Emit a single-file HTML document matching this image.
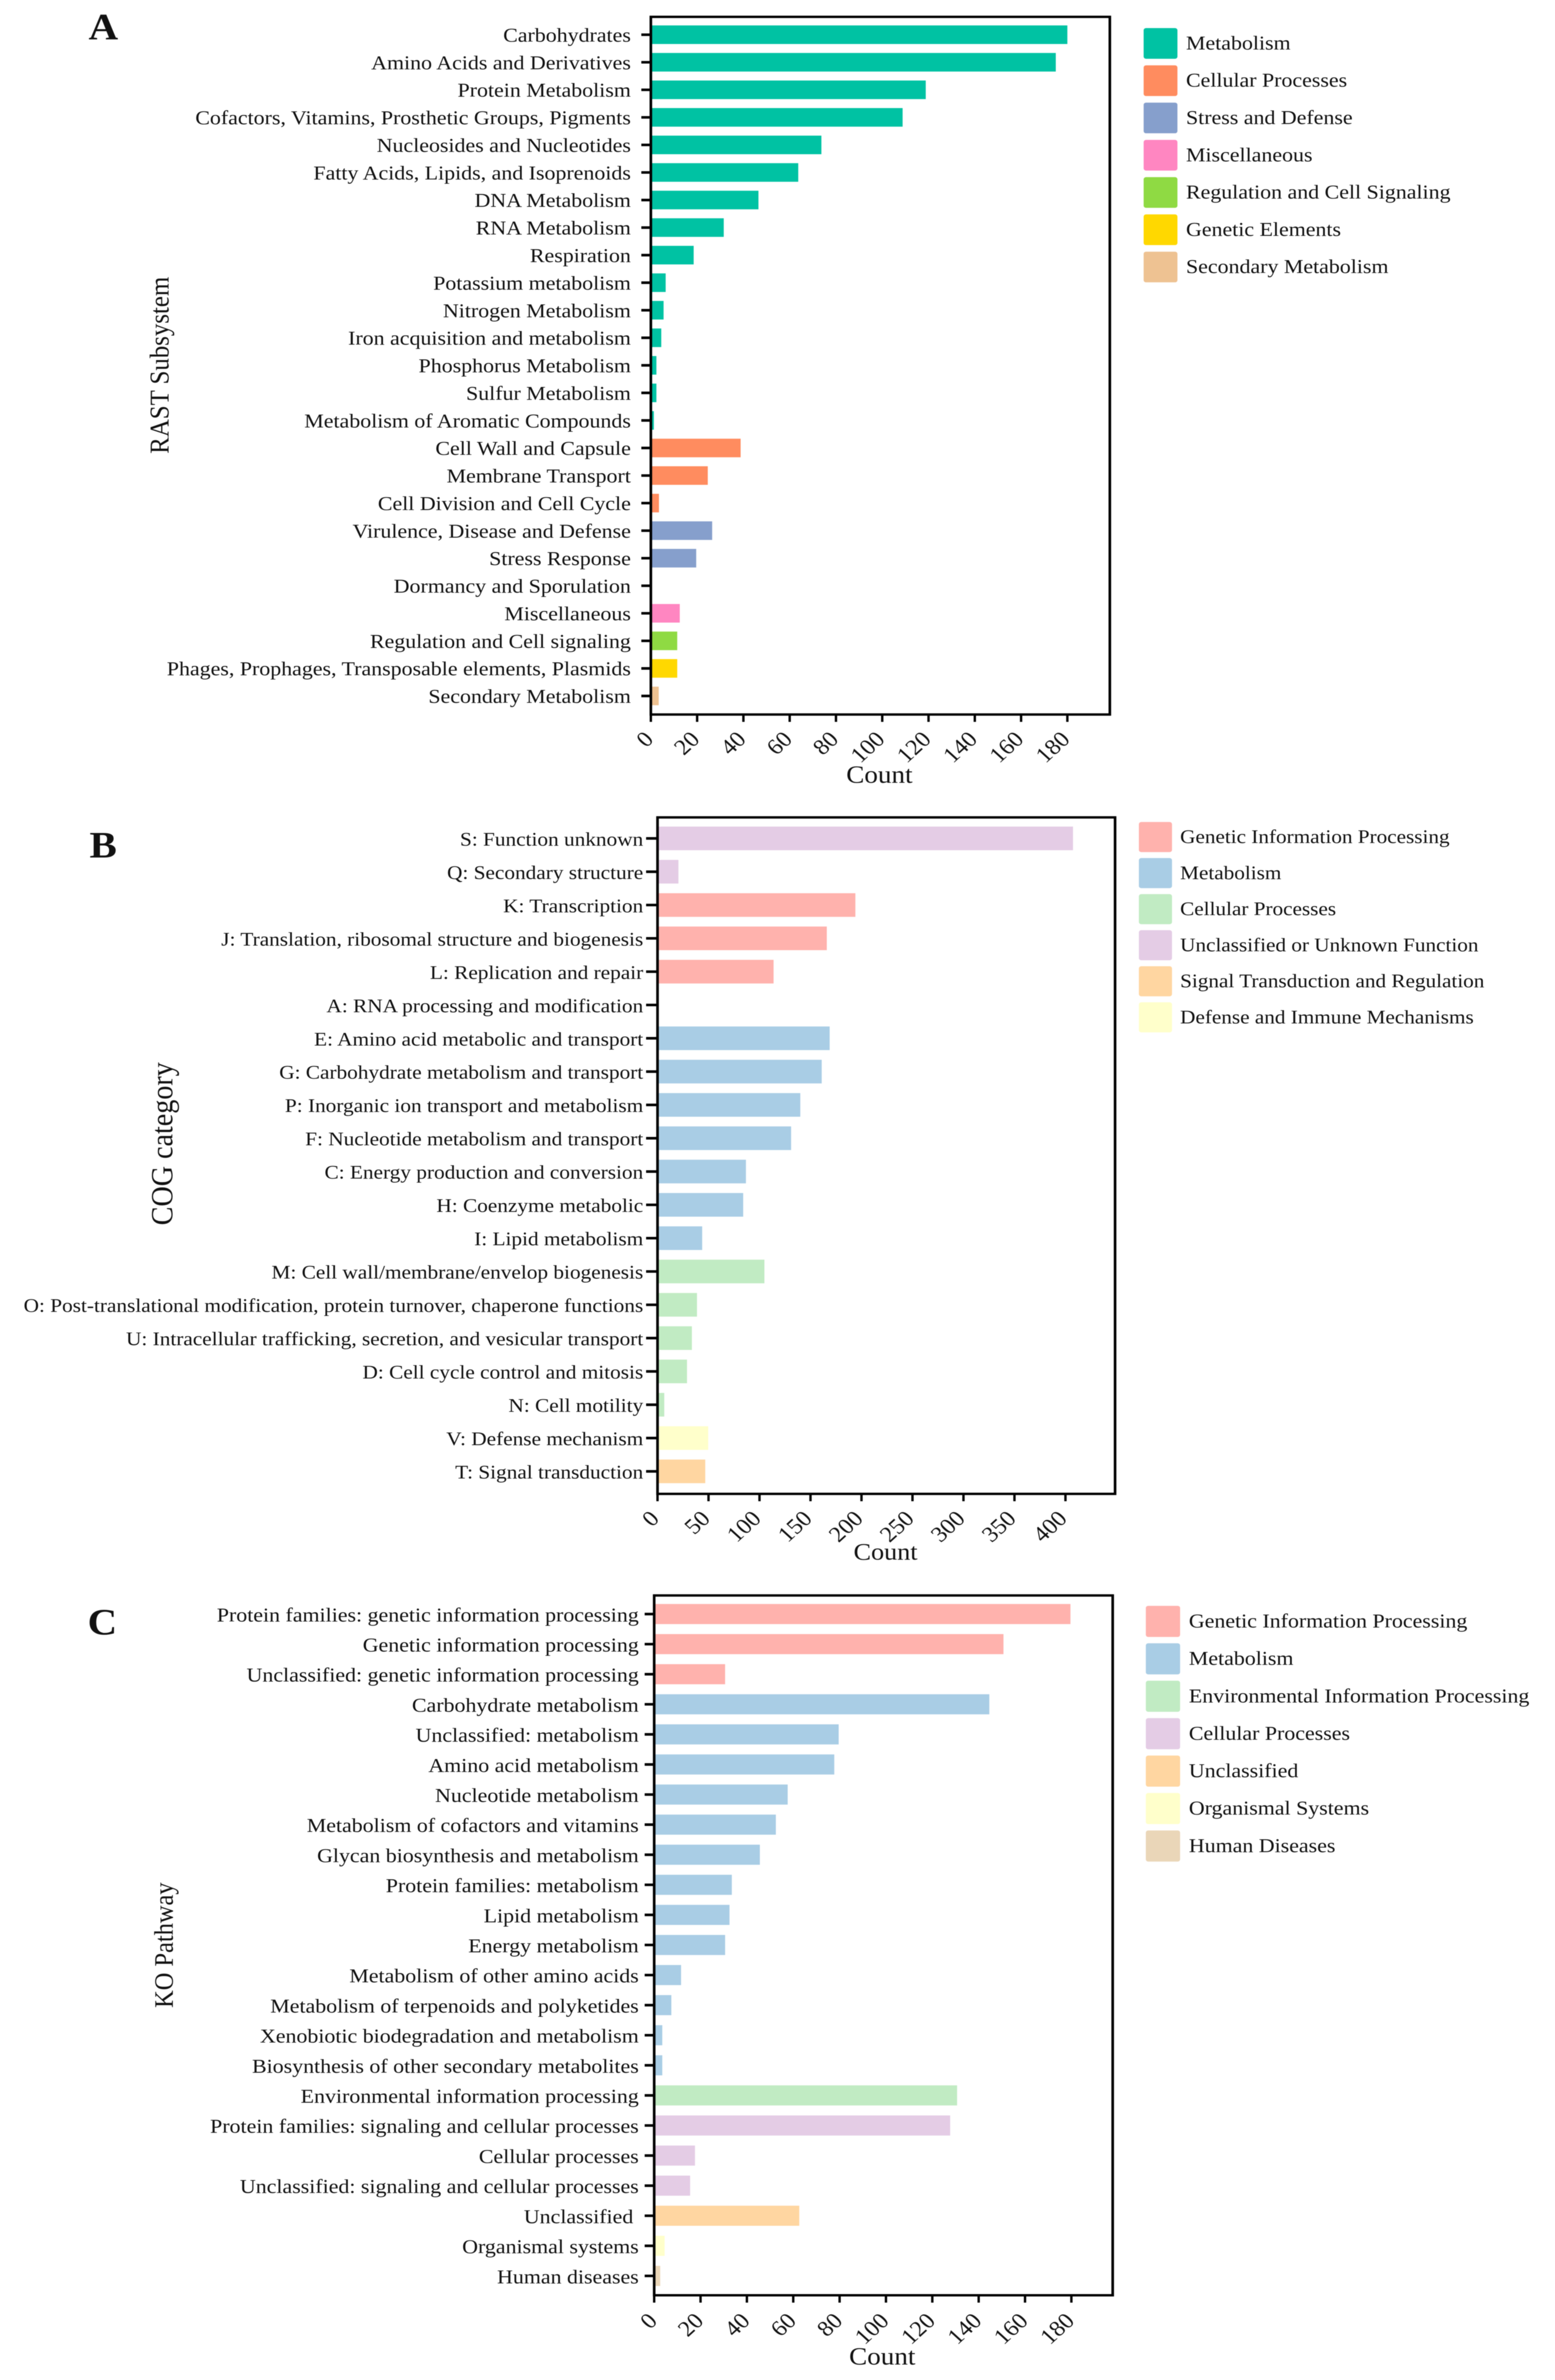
<!DOCTYPE html>
<html lang="en">
<head>
<meta charset="utf-8">
<title>RAST, COG and KO functional annotation counts</title>
<style>
  html, body { margin: 0; padding: 0; background: #ffffff; width: 100%; height: 100%; overflow: hidden; }
  svg { display: block; width: 100vw; height: 100vh; filter: blur(0.9px); }
  text { font-family: "Liberation Serif", "Times New Roman", serif; fill: #111111; }
</style>
</head>
<body>
<svg id="figure" xmlns="http://www.w3.org/2000/svg" viewBox="0 0 3266 5506" preserveAspectRatio="none">
  <rect x="0" y="0" width="3266" height="5506" fill="#ffffff"/>

  <g id="panel-a"></g>
  <g id="panel-b"></g>
  <g id="panel-c"></g>

  <text x="186" y="91" font-size="86" font-weight="700">A</text>
  <text x="188" y="1984" font-size="86" font-weight="700">B</text>
  <text x="184" y="3781" font-size="86" font-weight="700">C</text>

  <text transform="translate(354 845) rotate(-90)" text-anchor="middle" font-size="57.5">RAST Subsystem</text>
  <text transform="translate(362 2646) rotate(-90)" text-anchor="middle" font-size="65">COG category</text>
  <text transform="translate(363 4500) rotate(-90)" text-anchor="middle" font-size="56.5">KO Pathway</text>

  <text x="1847" y="1811" text-anchor="middle" font-size="57">Count</text>
  <text x="1860" y="3608" text-anchor="middle" font-size="55">Count</text>
  <text x="1853" y="5470" text-anchor="middle" font-size="57">Count</text>
</svg>

<script>
const rastCategories = ["Carbohydrates","Amino Acids and Derivatives","Protein Metabolism","Cofactors, Vitamins, Prosthetic Groups, Pigments","Nucleosides and Nucleotides","Fatty Acids, Lipids, and Isoprenoids","DNA Metabolism","RNA Metabolism","Respiration","Potassium metabolism","Nitrogen Metabolism","Iron acquisition and metabolism","Phosphorus Metabolism","Sulfur Metabolism","Metabolism of Aromatic Compounds","Cell Wall and Capsule","Membrane Transport","Cell Division and Cell Cycle","Virulence, Disease and Defense","Stress Response","Dormancy and Sporulation","Miscellaneous","Regulation and Cell signaling","Phages, Prophages, Transposable elements, Plasmids","Secondary Metabolism"];
const rastValues = [180,175,118.8,108.8,73.7,63.7,46.5,31.5,18.5,6.4,5.5,4.5,2.4,2.4,1.3,38.8,24.6,3.5,26.5,19.6,0,12.5,11.4,11.4,3.4];
const rastGroups = [0,0,0,0,0,0,0,0,0,0,0,0,0,0,0,1,1,1,2,2,2,3,4,5,6];
const rastLegend = ["Metabolism","Cellular Processes","Stress and Defense","Miscellaneous","Regulation and Cell Signaling","Genetic Elements","Secondary Metabolism"];
const rastTicks = [0,20,40,60,80,100,120,140,160,180];

const cogCategories = ["S: Function unknown","Q: Secondary structure","K: Transcription","J: Translation, ribosomal structure and biogenesis","L: Replication and repair","A: RNA processing and modification","E: Amino acid metabolic and transport","G: Carbohydrate metabolism and transport","P: Inorganic ion transport and metabolism","F: Nucleotide metabolism and transport","C: Energy production and conversion","H: Coenzyme metabolic","I: Lipid metabolism","M: Cell wall/membrane/envelop biogenesis","O: Post-translational modification, protein turnover, chaperone functions","U: Intracellular trafficking, secretion, and vesicular transport","D: Cell cycle control and mitosis","N: Cell motility","V: Defense mechanism","T: Signal transduction"];
const cogValues = [407.4,20.5,194,166,113.8,0,168.8,161,140,131,86.7,84,43.8,104.8,38.7,33.7,28.9,6.6,49.7,46.8];
const cogGroups = [3,3,0,0,0,0,1,1,1,1,1,1,1,2,2,2,2,2,5,4];
const cogLegend = ["Genetic Information Processing","Metabolism","Cellular Processes","Unclassified or Unknown Function","Signal Transduction and Regulation","Defense and Immune Mechanisms"];
const cogTicks = [0,50,100,150,200,250,300,350,400];

const koCategories = ["Protein families: genetic information processing","Genetic information processing","Unclassified: genetic information processing","Carbohydrate metabolism","Unclassified: metabolism","Amino acid metabolism","Nucleotide metabolism","Metabolism of cofactors and vitamins","Glycan biosynthesis and metabolism","Protein families: metabolism","Lipid metabolism","Energy metabolism","Metabolism of other amino acids","Metabolism of terpenoids and polyketides","Xenobiotic biodegradation and metabolism","Biosynthesis of other secondary metabolites","Environmental information processing","Protein families: signaling and cellular processes","Cellular processes","Unclassified: signaling and cellular processes","Unclassified\u00a0","Organismal systems","Human diseases"];
const koValues = [179.6,150.7,30.6,144.6,79.6,77.7,57.6,52.5,45.6,33.5,32.5,30.6,11.6,7.4,3.5,3.5,130.7,127.7,17.6,15.5,62.6,4.5,2.6];
const koGroups = [0,0,0,1,1,1,1,1,1,1,1,1,1,1,1,1,2,3,3,3,4,5,6];
const koLegend = ["Genetic Information Processing","Metabolism","Environmental Information Processing","Cellular Processes","Unclassified","Organismal Systems","Human Diseases"];
const koTicks = [0,20,40,60,80,100,120,140,160,180];

const rastColors = ["#00C2A3","#FF8C5F","#869FCC","#FF86C1","#8FDA43","#FFD800","#EEC292"];
const cogColors = ["#FFB2AD","#A9CDE5","#C1EBC3","#E4CCE5","#FFD6A1","#FFFFCB"];
const koColors = ["#FFB2AD","#A9CDE5","#C1EBC3","#E4CCE5","#FFD6A1","#FFFFCB","#EAD6B8"];

const SVG_NS = "http://www.w3.org/2000/svg";

function drawPanel(host, categories, values, groups, legendNames, colors, ticks, g) {
  const xScale = function (v) { return g.left + v * g.unit; };
  const yScale = function (i) { return g.first + i * g.step; };

  values.forEach(function (v, i) {
    const bar = document.createElementNS(SVG_NS, "rect");
    
    
    bar.setAttribute("x", xScale(0));
    bar.setAttribute("y", yScale(i) - g.barHeight / 2);
    bar.setAttribute("width", xScale(v) - xScale(0));
    bar.setAttribute("height", g.barHeight);
    bar.setAttribute("fill", colors[groups[i]]);
    host.appendChild(bar);
  });

  const frame = document.createElementNS(SVG_NS, "rect");
  
  
  frame.setAttribute("x", g.left);
  frame.setAttribute("y", g.top);
  frame.setAttribute("width", g.right - g.left);
  frame.setAttribute("height", g.bottom - g.top);
  frame.setAttribute("fill", "none");
  frame.setAttribute("stroke", "#000000");
  frame.setAttribute("stroke-width", "5.5");
  host.appendChild(frame);

  categories.forEach(function (name, i) {
    const tick = document.createElementNS(SVG_NS, "line");
    
    
    tick.setAttribute("x1", g.left - g.yTickLength);
    tick.setAttribute("x2", g.left);
    tick.setAttribute("y1", yScale(i));
    tick.setAttribute("y2", yScale(i));
    tick.setAttribute("stroke", "#000000");
    tick.setAttribute("stroke-width", "6");
    host.appendChild(tick);

    const label = document.createElementNS(SVG_NS, "text");
    
    
    label.setAttribute("x", g.labelRight);
    label.setAttribute("y", yScale(i) + g.labelDrop);
    label.setAttribute("text-anchor", "end");
    label.setAttribute("font-size", g.labelSize);
    label.textContent = name;
    host.appendChild(label);
  });

  ticks.forEach(function (t) {
    const tick = document.createElementNS(SVG_NS, "line");
    
    
    tick.setAttribute("x1", xScale(t));
    tick.setAttribute("x2", xScale(t));
    tick.setAttribute("y1", g.bottom);
    tick.setAttribute("y2", g.bottom + g.xTickLength);
    tick.setAttribute("stroke", "#000000");
    tick.setAttribute("stroke-width", "5");
    host.appendChild(tick);

    const label = document.createElementNS(SVG_NS, "text");
    
    
    label.setAttribute("text-anchor", "end");
    label.setAttribute("font-size", g.tickSize);
    label.setAttribute("transform", "translate(" + (xScale(t) + g.tickDx) + " " + (g.bottom + g.tickDy) + ") rotate(-45)");
    label.textContent = String(t);
    host.appendChild(label);
  });

  legendNames.forEach(function (name, i) {
    const swatch = document.createElementNS(SVG_NS, "rect");
    
    
    swatch.setAttribute("x", g.legendX);
    swatch.setAttribute("y", g.legendY + i * g.legendStep);
    swatch.setAttribute("width", g.swatch);
    swatch.setAttribute("height", g.swatch);
    swatch.setAttribute("rx", "5");
    swatch.setAttribute("fill", colors[i]);
    host.appendChild(swatch);

    const entry = document.createElementNS(SVG_NS, "text");
    
    
    entry.setAttribute("x", g.legendTextX);
    entry.setAttribute("y", g.legendY + i * g.legendStep + g.swatch / 2 + 14);
    entry.setAttribute("font-size", g.legendSize);
    entry.textContent = name;
    host.appendChild(entry);
  });
}

drawPanel(document.getElementById("panel-a"), rastCategories, rastValues, rastGroups, rastLegend, rastColors, rastTicks, {
  left: 1367, right: 2331, top: 39, bottom: 1653, unit: 4.86,
  first: 80.3, step: 63.74, barHeight: 43,
  yTickLength: 20, xTickLength: 17, labelRight: 1325, labelDrop: 16, labelSize: 46,
  tickSize: 51, tickDx: 8, tickDy: 60,
  legendX: 2402, legendY: 65, legendStep: 86.2, swatch: 71, legendTextX: 2491, legendSize: 46
});

drawPanel(document.getElementById("panel-b"), cogCategories, cogValues, cogGroups, cogLegend, cogColors, cogTicks, {
  left: 1381, right: 2342, top: 1891, bottom: 3456, unit: 2.142,
  first: 1939.6, step: 77.07, barHeight: 54.7,
  yTickLength: 24, xTickLength: 17, labelRight: 1351, labelDrop: 16.5, labelSize: 44.7,
  tickSize: 51, tickDx: 6, tickDy: 60,
  legendX: 2392, legendY: 1901.7, legendStep: 83.4, swatch: 69.6, legendTextX: 2478.7, legendSize: 44.5
});

drawPanel(document.getElementById("panel-c"), koCategories, koValues, koGroups, koLegend, koColors, koTicks, {
  left: 1374, right: 2337, top: 3691, bottom: 5310, unit: 4.868,
  first: 3734, step: 69.6, barHeight: 46.5,
  yTickLength: 20, xTickLength: 17, labelRight: 1341.6, labelDrop: 17, labelSize: 46,
  tickSize: 51, tickDx: 9, tickDy: 62,
  legendX: 2406.6, legendY: 3715, legendStep: 86.6, swatch: 72, legendTextX: 2497, legendSize: 46
});
</script>
</body>
</html>
